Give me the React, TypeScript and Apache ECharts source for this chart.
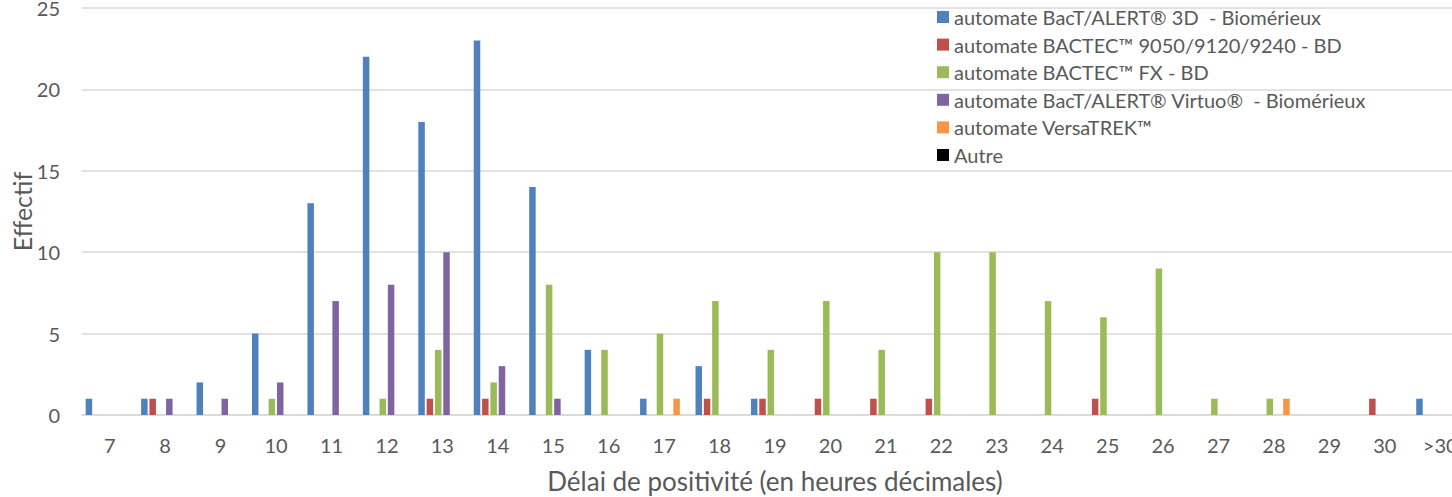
import React, { useEffect, useRef } from "react";
import * as echarts from "echarts";

const categories = ["7", "8", "9", "10", "11", "12", "13", "14", "15", "16", "17", "18", "19", "20", "21", "22", "23", "24", "25", "26", "27", "28", "29", "30", ">30"];

const seriesNames = [
  "automate BacT/ALERT® 3D  - Biomérieux",
  "automate BACTEC™ 9050/9120/9240 - BD",
  "automate BACTEC™ FX - BD",
  "automate BacT/ALERT® Virtuo®  - Biomérieux",
  "automate VersaTREK™",
  "Autre",
];

const bactAlert3D = [1, 1, 2, 5, 13, 22, 18, 23, 14, 4, 1, 3, 1, 0, 0, 0, 0, 0, 0, 0, 0, 0, 0, 0, 1];
const bactec9000 = [0, 1, 0, 0, 0, 0, 1, 1, 0, 0, 0, 1, 1, 1, 1, 1, 0, 0, 1, 0, 0, 0, 0, 1, 0];
const bactecFX = [0, 0, 0, 1, 0, 1, 4, 2, 8, 4, 5, 7, 4, 7, 4, 10, 10, 7, 6, 9, 1, 1, 0, 0, 0];
const bactAlertVirtuo = [0, 1, 1, 2, 7, 8, 10, 3, 1, 0, 0, 0, 0, 0, 0, 0, 0, 0, 0, 0, 0, 0, 0, 0, 0];
const versaTrek = [0, 0, 0, 0, 0, 0, 0, 0, 0, 0, 1, 0, 0, 0, 0, 0, 0, 0, 0, 0, 0, 1, 0, 0, 0];
const autre = [0, 0, 0, 0, 0, 0, 0, 0, 0, 0, 0, 0, 0, 0, 0, 0, 0, 0, 0, 0, 0, 0, 0, 0, 0];

const seriesData = [bactAlert3D, bactec9000, bactecFX, bactAlertVirtuo, versaTrek, autre];
const colors = ["#4F81BD", "#C0504D", "#9BBB59", "#8064A2", "#F79646", "#000000"];

const FONT = "Lato";
const TEXT = "#595959";

export default function App() {
  const ref = useRef<HTMLDivElement>(null);
  useEffect(() => {
    document.body.style.margin = "0";
    const chart = echarts.init(ref.current!, undefined, { renderer: "svg" });
    chart.setOption({
      animation: false,
      textStyle: { fontFamily: FONT },
      color: colors,
      grid: { left: 82, right: -16, top: 8, bottom: 82, outerBoundsMode: "none" },
      legend: {
        orient: "vertical",
        left: 937,
        top: 6,
        padding: 0,
        itemWidth: 12,
        itemHeight: 12,
        itemGap: 5.6,
        icon: "rect",
        textStyle: { color: TEXT, fontSize: 20, fontFamily: FONT, lineHeight: 22 },
        data: seriesNames,
      },
      xAxis: {
        type: "category",
        data: categories,
        axisLine: { lineStyle: { color: "#D9D9D9", width: 1.5 } },
        axisTick: { show: false },
        axisLabel: { color: TEXT, fontSize: 20, margin: 20, fontFamily: FONT },
        name: "Délai de positivité (en heures décimales)",
        nameLocation: "middle",
        nameGap: 53,
        nameTextStyle: { color: TEXT, fontSize: 26, fontFamily: FONT },
      },
      yAxis: {
        type: "value",
        min: 0,
        max: 25,
        interval: 5,
        splitLine: { lineStyle: { color: "#D9D9D9", width: 1.5 } },
        axisLabel: { color: TEXT, fontSize: 20, margin: 22, fontFamily: FONT },
        name: "Effectif",
        nameLocation: "middle",
        nameGap: 48,
        nameMoveOverlap: false,
        nameTextStyle: { color: TEXT, fontSize: 25, fontFamily: FONT },
      },
      series: seriesNames.map((n, i) => ({
        name: n,
        type: "bar",
        data: seriesData[i],
        barWidth: 6.5,
        barGap: "28%",
        itemStyle: { color: colors[i] },
      })),
    });
    return () => chart.dispose();
  }, []);
  return <div ref={ref} style={{ width: 1452, height: 497 }} />;
}
